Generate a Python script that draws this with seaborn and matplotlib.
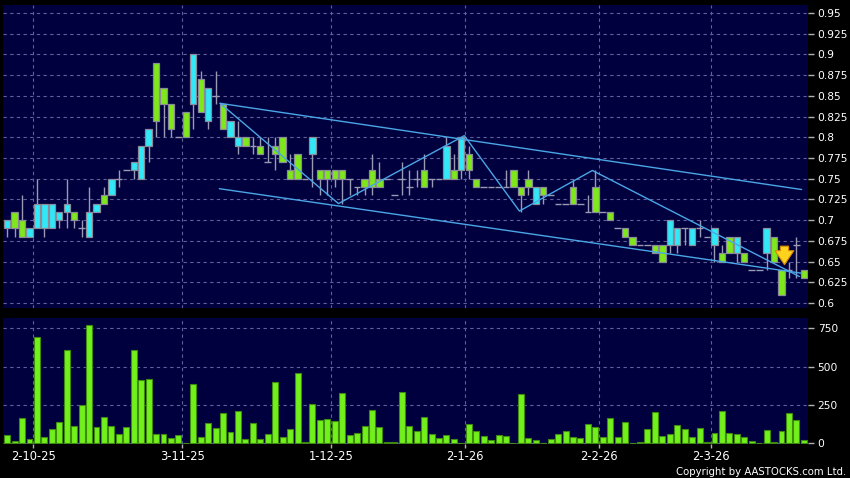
import numpy as np
import pandas as pd
import seaborn as sns
import matplotlib.pyplot as plt

# daily candles (108 trading days)
opens = [0.69, 0.71, 0.70, 0.68, 0.69, 0.69, 0.69, 0.70, 0.71, 0.71,
         0.69, 0.68, 0.71, 0.73, 0.73, 0.75, 0.76, 0.76, 0.75, 0.79,
         0.89, 0.86, 0.84, 0.80, 0.83, 0.84, 0.87, 0.82, 0.85, 0.84,
         0.80, 0.79, 0.80, 0.79, 0.79, 0.77, 0.79, 0.80, 0.76, 0.78,
         0.75, 0.78, 0.76, 0.76, 0.76, 0.76, 0.75, 0.74, 0.75, 0.76,
         0.75, 0.75, 0.73, 0.75, 0.74, 0.75, 0.76, 0.75, 0.75, 0.75,
         0.76, 0.76, 0.78, 0.75, 0.74, 0.74, 0.74, 0.74, 0.76, 0.74,
         0.75, 0.72, 0.74, 0.73, 0.72, 0.72, 0.74, 0.72, 0.71, 0.74,
         0.71, 0.71, 0.69, 0.69, 0.68, 0.67, 0.67, 0.67, 0.67, 0.67,
         0.67, 0.69, 0.67, 0.69, 0.68, 0.67, 0.66, 0.68, 0.66, 0.66,
         0.64, 0.64, 0.66, 0.68, 0.64, 0.64, 0.67, 0.64]
highs = [0.70, 0.71, 0.73, 0.69, 0.75, 0.72, 0.72, 0.71, 0.75, 0.71,
         0.70, 0.74, 0.72, 0.74, 0.75, 0.76, 0.76, 0.77, 0.79, 0.81,
         0.89, 0.86, 0.84, 0.80, 0.83, 0.90, 0.88, 0.86, 0.88, 0.84,
         0.82, 0.82, 0.80, 0.80, 0.80, 0.80, 0.80, 0.80, 0.78, 0.78,
         0.75, 0.80, 0.76, 0.76, 0.76, 0.76, 0.75, 0.74, 0.75, 0.78,
         0.77, 0.75, 0.73, 0.77, 0.76, 0.76, 0.78, 0.75, 0.75, 0.80,
         0.78, 0.80, 0.79, 0.75, 0.74, 0.74, 0.74, 0.76, 0.76, 0.74,
         0.76, 0.74, 0.74, 0.73, 0.72, 0.72, 0.75, 0.72, 0.73, 0.76,
         0.71, 0.71, 0.69, 0.69, 0.68, 0.67, 0.67, 0.67, 0.67, 0.70,
         0.69, 0.69, 0.69, 0.70, 0.68, 0.69, 0.67, 0.68, 0.68, 0.66,
         0.64, 0.64, 0.69, 0.68, 0.64, 0.65, 0.68, 0.64]
lows = [0.68, 0.68, 0.68, 0.68, 0.69, 0.68, 0.69, 0.69, 0.69, 0.69,
        0.68, 0.68, 0.71, 0.72, 0.73, 0.74, 0.76, 0.75, 0.75, 0.77,
        0.80, 0.80, 0.80, 0.80, 0.80, 0.81, 0.83, 0.81, 0.84, 0.81,
        0.80, 0.78, 0.79, 0.78, 0.78, 0.77, 0.76, 0.77, 0.75, 0.75,
        0.75, 0.74, 0.73, 0.73, 0.74, 0.72, 0.73, 0.73, 0.73, 0.73,
        0.74, 0.75, 0.73, 0.73, 0.73, 0.74, 0.74, 0.74, 0.75, 0.75,
        0.75, 0.75, 0.75, 0.74, 0.74, 0.74, 0.74, 0.74, 0.74, 0.71,
        0.73, 0.72, 0.72, 0.73, 0.72, 0.72, 0.72, 0.72, 0.71, 0.71,
        0.71, 0.70, 0.69, 0.68, 0.67, 0.67, 0.67, 0.66, 0.65, 0.66,
        0.66, 0.67, 0.67, 0.68, 0.68, 0.65, 0.65, 0.66, 0.65, 0.65,
        0.64, 0.64, 0.64, 0.65, 0.61, 0.63, 0.63, 0.63]
closes = [0.70, 0.69, 0.68, 0.69, 0.72, 0.72, 0.72, 0.71, 0.72, 0.70,
          0.69, 0.71, 0.72, 0.72, 0.75, 0.75, 0.76, 0.77, 0.79, 0.81,
          0.82, 0.84, 0.81, 0.80, 0.80, 0.90, 0.83, 0.86, 0.85, 0.81,
          0.82, 0.80, 0.79, 0.79, 0.78, 0.77, 0.78, 0.77, 0.75, 0.75,
          0.75, 0.80, 0.75, 0.75, 0.75, 0.75, 0.75, 0.74, 0.74, 0.74,
          0.74, 0.75, 0.73, 0.75, 0.74, 0.75, 0.74, 0.75, 0.75, 0.79,
          0.75, 0.80, 0.76, 0.74, 0.74, 0.74, 0.74, 0.74, 0.74, 0.73,
          0.74, 0.74, 0.73, 0.73, 0.72, 0.72, 0.72, 0.72, 0.71, 0.71,
          0.71, 0.70, 0.69, 0.68, 0.67, 0.67, 0.67, 0.66, 0.65, 0.70,
          0.69, 0.69, 0.69, 0.69, 0.68, 0.69, 0.65, 0.66, 0.68, 0.65,
          0.64, 0.64, 0.69, 0.65, 0.61, 0.64, 0.67, 0.63]
volume = [54, 17, 163, 26, 691, 43, 93, 139, 606, 111,
          252, 771, 105, 173, 110, 60, 104, 608, 413, 418,
          59, 58, 36, 52, 0, 387, 38, 130, 97, 198,
          73, 212, 28, 135, 26, 63, 401, 38, 96, 460,
          6, 256, 151, 156, 148, 326, 57, 64, 114, 220,
          106, 5, 10, 333, 111, 81, 169, 58, 37, 56,
          26, 4, 125, 81, 50, 19, 57, 48, 4, 322,
          35, 22, 0, 28, 63, 78, 39, 37, 128, 109,
          39, 163, 41, 137, 0, 9, 93, 207, 46, 63,
          120, 91, 41, 98, 7, 65, 213, 70, 61, 39,
          15, 4, 87, 9, 83, 198, 152, 22]

date_labels = ['2-10-25', '3-11-25', '1-12-25', '2-1-26', '2-2-26', '2-3-26']
date_ticks = [3.5, 23.5, 43.5, 61.5, 79.5, 94.5]

# drawn trend lines (bar index, price)
zigzag_x = [28.6, 44.5, 61.4, 68.8, 78.6, 106.4]
zigzag_y = [0.841, 0.720, 0.802, 0.711, 0.760, 0.632]
upper_x = [28.6, 106.7]
upper_y = [0.841, 0.737]
lower_x = [28.5, 106.7]
lower_y = [0.738, 0.636]
arrow_x = 104.4

navy = '#00003e'
cyan = '#30e8f8'
green = '#7ee81a'
wick = '#9a9ab4'
tline = '#4aa6e6'

df = pd.DataFrame({'o': opens, 'h': highs, 'l': lows, 'c': closes, 'v': volume})
df['idx'] = np.arange(len(df))

sns.set_style('dark', {'axes.facecolor': navy, 'figure.facecolor': 'black',
                       'grid.color': '#60609a', 'grid.linestyle': (0, (3, 3)),
                       'axes.edgecolor': 'black'})
plt.rcParams['font.family'] = ['DejaVu Sans']

fig = plt.figure(figsize=(8.5, 4.78), dpi=100)
fig.patch.set_facecolor('black')
ax = fig.add_axes([0.0035, 0.3556, 0.947, 0.634])
axv = fig.add_axes([0.0035, 0.0711, 0.947, 0.2636])

up = df[df.c > df.o]
down = df[df.c < df.o]
flat = df[df.c == df.o]

ax.vlines(df.idx, df.l, df.h, color=wick, lw=1, zorder=2)
ax.bar(up.idx, up.c - up.o, bottom=up.o, width=0.85, color=cyan,
       edgecolor='#8a8a98', lw=0.9, zorder=3)
ax.bar(down.idx, down.o - down.c, bottom=down.c, width=0.85, color=green,
       edgecolor='#8a8a98', lw=0.9, zorder=3)
ax.hlines(flat.c, flat.idx - 0.45, flat.idx + 0.45, color=wick, lw=1, zorder=3)

ax.plot(zigzag_x, zigzag_y, color=tline, lw=1, zorder=4)
ax.plot(upper_x, upper_y, color=tline, lw=1, zorder=4)
ax.plot(lower_x, lower_y, color=tline, lw=1, zorder=4)

ax.annotate('', xy=(arrow_x, 0.643), xytext=(arrow_x, 0.672),
            arrowprops=dict(arrowstyle='simple,head_width=1.35,head_length=1.0,tail_width=0.6',
                            facecolor='#ffd21e', edgecolor='#d88a00', lw=0.8),
            zorder=6)

sns.barplot(x=df.idx, y=df.v, ax=axv, native_scale=True, orient='x',
            color='#72f01c', saturation=1, edgecolor='#3f8a10', linewidth=0.8,
            width=0.8, errorbar=None, zorder=3)

for a in (ax, axv):
    a.set_xlim(-0.56, 107.55)
    a.set_xticks(date_ticks)
    a.grid(True, lw=0.8)
    a.yaxis.tick_right()
    a.set_xlabel('')
    a.set_ylabel('')
    for s in a.spines.values():
        s.set_visible(False)
    a.tick_params(axis='y', colors='#b0b0b0', labelcolor='white', length=4,
                  width=1, pad=3, labelsize=7.7, right=True, left=False)

price_ticks = np.round(np.arange(0.6, 0.951, 0.025), 3)
ax.set_ylim(0.594, 0.9597)
ax.set_yticks(price_ticks)
ax.set_yticklabels([f'{t:g}' for t in price_ticks])
ax.tick_params(axis='x', bottom=False, labelbottom=False)

axv.set_ylim(-5, 817)
axv.set_yticks([0, 250, 500, 750])
axv.set_yticklabels(['0', '250', '500', '750'])
axv.set_xticklabels(date_labels)
axv.tick_params(axis='x', colors='#b0b0b0', labelcolor='white', length=3,
                width=1, pad=1, labelsize=8.3, bottom=True)

fig.text(0.996, 0.003, 'Copyright by AASTOCKS.com Ltd.', ha='right', va='bottom',
         color='white', fontsize=7.3)

fig.savefig('out.png', dpi=100, facecolor='black')
